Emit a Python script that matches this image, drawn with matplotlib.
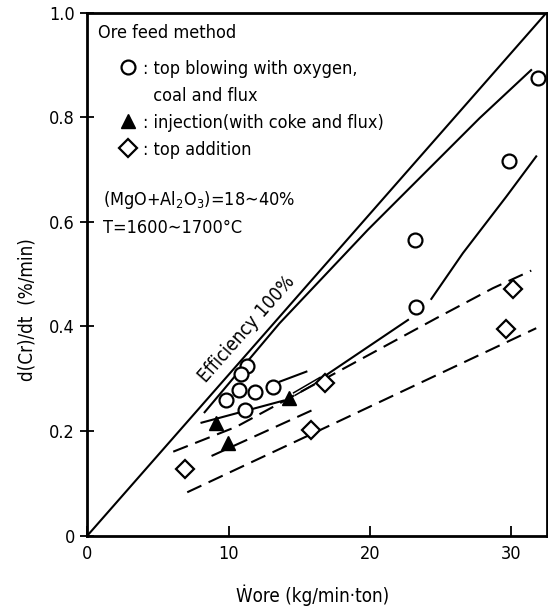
"""Chromium reduction rate vs. ore feed rate (Efficiency 100% line) - recreated chart."""

import matplotlib

matplotlib.use("Agg")
import matplotlib.pyplot as plt
from matplotlib import font_manager
from matplotlib.lines import Line2D

# condensed DejaVu looks closer to the scanned lettering, if it is installed
_path = font_manager.findfont(font_manager.FontProperties(family="DejaVu Sans", stretch="condensed"))
if "Condensed" in _path:
    plt.rcParams["font.stretch"] = "condensed"
    K = 1.08
else:
    K = 1.0

plt.rcParams["font.family"] = ["DejaVu Sans"]

# --- data ---
circle_x = [31.87, 29.8, 23.16, 23.28, 11.31, 10.86, 10.74, 11.85, 13.15, 9.80, 11.15]
circle_y = [0.875, 0.716, 0.565, 0.437, 0.3245, 0.3086, 0.2786, 0.2753, 0.2837, 0.2595, 0.2403]

tri_x = [9.10, 9.94, 14.25]
tri_y = [0.215, 0.178, 0.264]

diam_x = [6.93, 15.86, 16.8, 29.64, 30.1]
diam_y = [0.1275, 0.202, 0.291, 0.3946, 0.471]

eff_x = [0, 32.5]
eff_y = [0, 1.0]

upper_x = [8.3, 13.6, 19.86, 27.75, 31.4]
upper_y = [0.236, 0.406, 0.585, 0.798, 0.89]

blow_curve_x = [24.34, 26.57, 29.64, 31.76]
blow_curve_y = [0.4526, 0.540, 0.648, 0.725]

blow_line_x = [22.69, 16.57]
blow_line_y = [0.4124, 0.301]

arrow_x = [16.57, 14.6]
arrow_y = [0.301, 0.270]

blow_short_x = [13.62, 15.5]
blow_short_y = [0.2945, 0.3136]

inj_x = [8.08, 13.85]
inj_y = [0.216, 0.258]

dash_top_x = [6.08, 10.56, 17.74, 24.69, 28.69, 31.41]
dash_top_y = [0.1606, 0.2084, 0.3136, 0.4157, 0.473, 0.5067]

dash_mid_x = [8.79, 16.21]
dash_mid_y = [0.1524, 0.2436]

dash_low_x = [7.07, 17.5, 31.76]
dash_low_y = [0.083, 0.215, 0.3966]

xticks = [0, 10, 20, 30]
yticks = [0, 0.2, 0.4, 0.6, 0.8, 1.0]
yticklabels = ["0", "0.2", "0.4", "0.6", "0.8", "1.0"]

legend_labels = [
    ": top blowing with oxygen,",
    "  coal and flux",
    ": injection(with coke and flux)",
    ": top addition",
]

fig = plt.figure(figsize=(5.48, 6.10), dpi=100)
ax = fig.add_axes([0.1593, 0.1218, 0.8383, 0.8577])
ax.set_xlim(0, 32.5)
ax.set_ylim(0, 1.0)

lw = 1.5
dash = (0, (7.5, 3.8))
ax.plot(eff_x, eff_y, color="black", lw=lw)
ax.plot(upper_x, upper_y, color="black", lw=lw)
ax.plot(blow_curve_x, blow_curve_y, color="black", lw=lw)
ax.plot(blow_line_x, blow_line_y, color="black", lw=lw)
ax.plot(blow_short_x, blow_short_y, color="black", lw=lw)
ax.plot(inj_x, inj_y, color="black", lw=lw)
# double-line arrow into the triangle
ax.plot(arrow_x, arrow_y, color="black", lw=3.2, solid_capstyle="butt")
ax.plot(arrow_x, arrow_y, color="white", lw=1.0, solid_capstyle="butt")

ax.plot(dash_top_x, dash_top_y, color="black", lw=lw, ls=dash)
ax.plot(dash_mid_x, dash_mid_y, color="black", lw=lw, ls=dash)
ax.plot(dash_low_x, dash_low_y, color="black", lw=lw, ls=dash)

ms = 10
dms = 9.5
ax.plot(circle_x, circle_y, "o", ms=ms, mfc="white", mec="black", mew=1.6, zorder=3)
ax.plot(tri_x, tri_y, "^", ms=ms, mfc="black", mec="black", zorder=3)
ax.plot(diam_x, diam_y, "D", ms=dms, mfc="white", mec="black", mew=1.6, zorder=3)

fs = 12 * K
ax.text(11.3, 0.395, "Efficiency 100%", rotation=48.5, rotation_mode="anchor",
        ha="center", va="center", fontsize=12.5 * K)

ax.text(0.023, 0.961, "Ore feed method", transform=ax.transAxes,
        ha="left", va="center", fontsize=fs)

handles = [
    Line2D([], [], ls="none", marker="o", ms=ms, mfc="white", mec="black", mew=1.6),
    Line2D([], [], ls="none"),
    Line2D([], [], ls="none", marker="^", ms=ms, mfc="black", mec="black"),
    Line2D([], [], ls="none", marker="D", ms=dms, mfc="white", mec="black", mew=1.6),
]
ax.legend(handles, legend_labels, loc="upper left", bbox_to_anchor=(0.07, 0.91),
          frameon=False, borderpad=0, borderaxespad=0, handlelength=1.0,
          handletextpad=0.3, labelspacing=0.5, fontsize=fs)

ax.text(0.035, 0.6415, r"(MgO+Al$\mathregular{_2}$O$\mathregular{_3}$)=18∼40%",
        transform=ax.transAxes, ha="left", va="center", fontsize=fs)
ax.text(0.035, 0.588, "T=1600∼1700°C", transform=ax.transAxes,
        ha="left", va="center", fontsize=fs)

ax.set_xticks(xticks)
ax.set_yticks(yticks)
ax.set_yticklabels(yticklabels)
ax.tick_params(axis="x", direction="in", length=7, width=1.3, labelsize=12 * K, pad=7)
ax.tick_params(axis="y", direction="inout", length=10, width=1.3, labelsize=12 * K, pad=4)
for s in ax.spines.values():
    s.set_linewidth(2)

fig.text(27 / 548, 1 - 310 / 610, "d(Cr)/dt  (%/min)", rotation=90,
         ha="center", va="center", fontsize=12.5 * K)
fig.text(313 / 548, 1 - 595 / 610, "Ẇore (kg/min·ton)",
         ha="center", va="center", fontsize=12.5 * K)

fig.savefig("out.png", dpi=100)
